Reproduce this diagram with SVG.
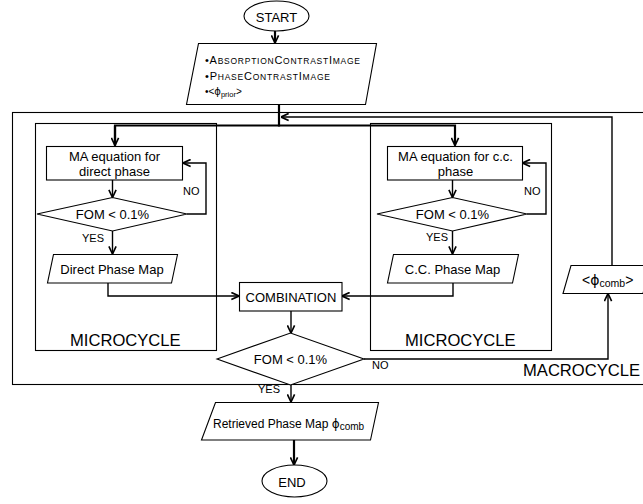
<svg xmlns="http://www.w3.org/2000/svg" width="643" height="504" viewBox="0 0 643 504">
<defs>
<marker id="arr" markerUnits="userSpaceOnUse" viewBox="0 0 10 10" refX="9.5" refY="5" markerWidth="9" markerHeight="9" orient="auto">
<path d="M1,1 L9.5,5 L1,9" fill="none" stroke="#000" stroke-width="1.8"/>
</marker>
</defs>
<style>
.s{fill:#fff;stroke:#000;stroke-width:1.1}
.f{fill:none;stroke:#000;stroke-width:1.1}
.c{fill:none;stroke:#000;stroke-width:1.4}
.k{fill:none;stroke:#000;stroke-width:2.2}
text{font-family:"Liberation Sans",Arial,sans-serif;fill:#000}
.t{font-size:13px;text-anchor:middle}
.l{font-size:11px}
.b{font-size:16.6px}
.sc{font-size:11px}
.sm{font-size:8.5px}
.g{font-family:"DejaVu Sans","Liberation Sans",sans-serif;fill:#000}
</style>
<g id="macrocycle">
<rect class="f" x="12.5" y="112.5" width="640" height="272"/>
<text class="b" x="523" y="376">MACROCYCLE</text>
</g>
<g id="microcycle-left">
<rect class="f" x="35.5" y="123.5" width="181" height="227"/>
<text class="b" x="70" y="346">MICROCYCLE</text>
</g>
<g id="microcycle-right">
<rect class="f" x="370.5" y="123.5" width="181" height="227"/>
<text class="b" x="405" y="346">MICROCYCLE</text>
</g>
<g id="connectors">
<line class="k" x1="275" y1="31" x2="275" y2="43" marker-end="url(#arr)"/>
<line class="k" x1="279" y1="105" x2="279" y2="126.5"/>
<polyline class="k" points="115,145.5 115,125.5 455,125.5 455,145.5" marker-end="url(#arr)"/>
<line class="k" x1="115" y1="126" x2="115" y2="145.5" marker-end="url(#arr)"/>
<line class="c" x1="112.5" y1="180" x2="112.5" y2="197.5" marker-end="url(#arr)"/>
<polyline class="c" points="187,214 206,214 206,163 183,163" marker-end="url(#arr)"/>
<line class="c" x1="112.5" y1="231" x2="112.5" y2="254" marker-end="url(#arr)"/>
<line class="c" x1="452.5" y1="180" x2="452.5" y2="197.5" marker-end="url(#arr)"/>
<polyline class="c" points="527,214 546,214 546,163 522.5,163" marker-end="url(#arr)"/>
<line class="c" x1="452.5" y1="231" x2="452.5" y2="254" marker-end="url(#arr)"/>
<polyline class="c" points="108,283 108,296 239,296" marker-end="url(#arr)"/>
<polyline class="c" points="453,283 453,296 342,296" marker-end="url(#arr)"/>
<line class="c" x1="291" y1="311" x2="291" y2="333" marker-end="url(#arr)"/>
<polyline class="c" points="364,359 608,359 608,293.5" marker-end="url(#arr)"/>
<polyline class="c" points="612,265 612,117 281,117" marker-end="url(#arr)"/>
<line class="c" x1="291" y1="385" x2="291" y2="402" marker-end="url(#arr)"/>
<line class="k" x1="294" y1="440" x2="294" y2="465" marker-end="url(#arr)"/>
<text class="l" x="183" y="195">NO</text>
<text class="l" x="82" y="242">YES</text>
<text class="l" x="524" y="195">NO</text>
<text class="l" x="426" y="241">YES</text>
<text class="l" x="372" y="369">NO</text>
<text class="l" x="258" y="393">YES</text>
</g>
<g id="start">
<ellipse class="s" cx="276.5" cy="16" rx="32.5" ry="15"/>
<text class="t" x="276.5" y="21.5">START</text>
</g>
<g id="input">
<polygon class="s" points="198.5,43.5 376.5,43.5 365.5,104.5 186.5,104.5"/>
<text class="sc" x="205" y="64" textLength="155" lengthAdjust="spacing">•A<tspan class="sm">BSORPTION</tspan>C<tspan class="sm">ONTRAST</tspan>I<tspan class="sm">MAGE</tspan></text>
<text class="sc" x="205" y="80" textLength="125" lengthAdjust="spacing">•P<tspan class="sm">HASE</tspan>C<tspan class="sm">ONTRAST</tspan>I<tspan class="sm">MAGE</tspan></text>
<text x="205" y="95" font-size="10">•&lt;<tspan class="g">ϕ</tspan><tspan font-size="7.5" dy="2">prior</tspan><tspan dy="-2">&gt;</tspan></text>
</g>
<g id="ma-direct">
<rect class="s" x="46.5" y="146.5" width="136" height="33.5"/>
<text class="t" x="114.5" y="160.5">MA equation for</text>
<text class="t" x="114.5" y="175.5">direct phase</text>
</g>
<g id="fom-direct">
<polygon class="s" points="37,214 112.5,197.5 187,214 112.5,231"/>
<text class="t" x="112.5" y="219">FOM &lt; 0.1%</text>
</g>
<g id="direct-map">
<polygon class="s" points="53.5,254.5 177.5,254.5 171.5,283 47.5,283"/>
<text class="t" x="112" y="274">Direct Phase Map</text>
</g>
<g id="ma-cc">
<rect class="s" x="387.5" y="146.5" width="135" height="33.5"/>
<text class="t" x="455.5" y="160.5">MA equation for c.c.</text>
<text class="t" x="455.5" y="175.5">phase</text>
</g>
<g id="fom-cc">
<polygon class="s" points="377,214 452.5,197.5 527,214 452.5,231"/>
<text class="t" x="452.5" y="219">FOM &lt; 0.1%</text>
</g>
<g id="cc-map">
<polygon class="s" points="393.5,254.5 518.5,254.5 512.5,283 387.5,283"/>
<text class="t" x="452.5" y="274">C.C. Phase Map</text>
</g>
<g id="combination">
<rect class="s" x="239.5" y="282.5" width="102.5" height="28.5"/>
<text class="t" x="291" y="301.5">COMBINATION</text>
</g>
<g id="fom-comb">
<polygon class="s" points="217,359 290.5,333 364,359 290.5,385"/>
<text class="t" x="290.5" y="364">FOM &lt; 0.1%</text>
</g>
<g id="phi-comb">
<polygon class="s" points="571,265.5 650,265.5 643,293.5 563,293.5"/>
<text x="582" y="285" font-size="14">&lt;<tspan class="g">ϕ</tspan><tspan font-size="10.5" dy="2">comb</tspan><tspan dy="-2">&gt;</tspan></text>
</g>
<g id="retrieved">
<polygon class="s" points="215.5,402.5 378.5,402.5 370.5,440 201.5,440"/>
<text x="213" y="428" font-size="12">Retrieved Phase Map <tspan class="g">ϕ</tspan><tspan font-size="10" dy="2">comb</tspan></text>
</g>
<g id="end">
<ellipse class="s" cx="294.5" cy="481" rx="32.5" ry="16"/>
<text class="t" x="292" y="486.5">END</text>
</g>
</svg>
